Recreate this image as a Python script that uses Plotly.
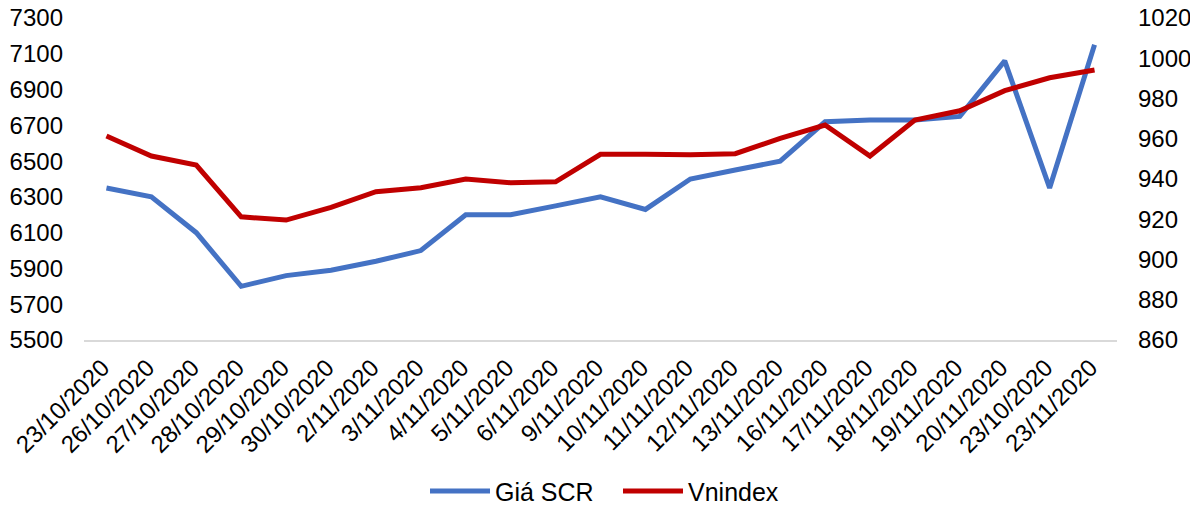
import plotly.graph_objects as go

dates = ["23/10/2020", "26/10/2020", "27/10/2020", "28/10/2020", "29/10/2020",
         "30/10/2020", "2/11/2020", "3/11/2020", "4/11/2020", "5/11/2020",
         "6/11/2020", "9/11/2020", "10/11/2020", "11/11/2020", "12/11/2020",
         "13/11/2020", "16/11/2020", "17/11/2020", "18/11/2020", "19/11/2020",
         "20/11/2020", "23/10/2020", "23/11/2020"]

gia_scr = [6350, 6300, 6100, 5800, 5860, 5890, 5940, 6000, 6200, 6200,
           6250, 6300, 6230, 6400, 6450, 6500, 6720, 6730, 6730, 6750,
           7060, 6350, 7150]

vnindex = [961.4, 951.4, 946.9, 921.2, 919.6, 925.9, 933.7, 935.7, 940.0, 938.1,
           938.6, 952.3, 952.3, 952.1, 952.6, 960.2, 966.8, 951.4, 969.3, 973.9,
           983.9, 990.3, 994.2]

left_ticks = list(range(5500, 7301, 200))
right_ticks = list(range(860, 1021, 20))

idx = list(range(len(dates)))
font = "Liberation Sans, Arial, sans-serif"

fig = go.Figure()
fig.add_trace(go.Scatter(x=idx, y=gia_scr, name="Giá SCR", mode="lines",
                         line=dict(color="#4472C4", width=5)))
fig.add_trace(go.Scatter(x=idx, y=vnindex, name="Vnindex", mode="lines",
                         line=dict(color="#C00000", width=5), yaxis="y2"))

fig.update_layout(
    width=1190, height=498,
    margin=dict(l=76, r=81, t=10, b=166, autoexpand=False),
    plot_bgcolor="white", paper_bgcolor="white",
    font=dict(family=font, size=24, color="#000000"),
    showlegend=True,
    legend=dict(orientation="h", x=(422 - 76 - 5) / 1033, xanchor="left",
                y=-0.47, yanchor="middle",
                font=dict(size=25), itemwidth=60,
                entrywidth=118, entrywidthmode="pixels",
                tracegroupgap=0),
    xaxis=dict(range=[-0.5, len(dates) - 0.5], tickmode="array", tickvals=idx,
               ticktext=dates, tickangle=-45, showgrid=False, zeroline=False,
               showline=True, linecolor="#D9D9D9", linewidth=2, ticks="",
               tickfont=dict(size=24), automargin=False,
               ticklabelshift=-4, ticklabelstandoff=2),
    yaxis=dict(range=[5500, 7300], tickmode="array", tickvals=left_ticks,
               showgrid=False, zeroline=False, showline=False, ticks="",
               ticklabelstandoff=20, automargin=False, ticklabeloverflow="allow",
               tickfont=dict(size=24)),
    yaxis2=dict(range=[860, 1020], tickmode="array", tickvals=right_ticks,
                overlaying="y", side="right", showgrid=False, zeroline=False,
                showline=False, ticks="", ticklabelstandoff=20, automargin=False,
                ticklabeloverflow="allow", tickfont=dict(size=24)),
)

fig.write_html("out.html")
